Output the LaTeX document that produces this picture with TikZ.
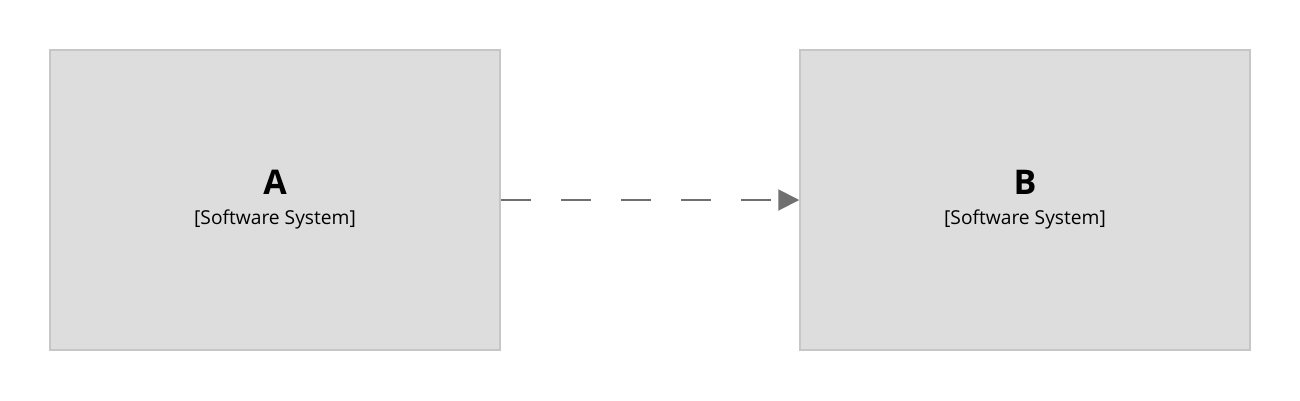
\documentclass[tikz,border=0pt]{standalone}
\usepackage{fontspec}
\setmainfont{Open Sans}
\usetikzlibrary{arrows.meta}
\definecolor{boxfill}{HTML}{DDDDDD}
\definecolor{boxline}{HTML}{C6C6C6}
\definecolor{relline}{HTML}{707070}
\tikzset{
  sysbox/.style={draw=boxline, fill=boxfill, line width=1.5pt, minimum width=450pt, minimum height=300pt, inner sep=0pt},
  titletext/.style={font=\fontsize{34}{40}\selectfont\bfseries, inner sep=0pt},
  typetext/.style={font=\fontsize{19.2}{23}\selectfont, inner sep=0pt},
  rel/.style={draw=relline, line width=2pt, dash pattern=on 30pt off 30pt, -{Triangle[length=21pt,width=21pt]}}
}
\begin{document}
\begin{tikzpicture}[x=1pt,y=-1pt]
\useasboundingbox (0,0) rectangle (1300,400);
\node[sysbox] (A) at (275,200) {};
\node[sysbox] (B) at (1025,200) {};
\node[titletext] (At) at (275,182) {A};
\node[typetext] (As) at (275,219) {[Software System]};
\node[titletext] (Bt) at (1025,182) {B};
\node[typetext] (Bs) at (1025,219) {[Software System]};
\draw[rel] (A.east) -- (B.west);
\end{tikzpicture}
\end{document}
